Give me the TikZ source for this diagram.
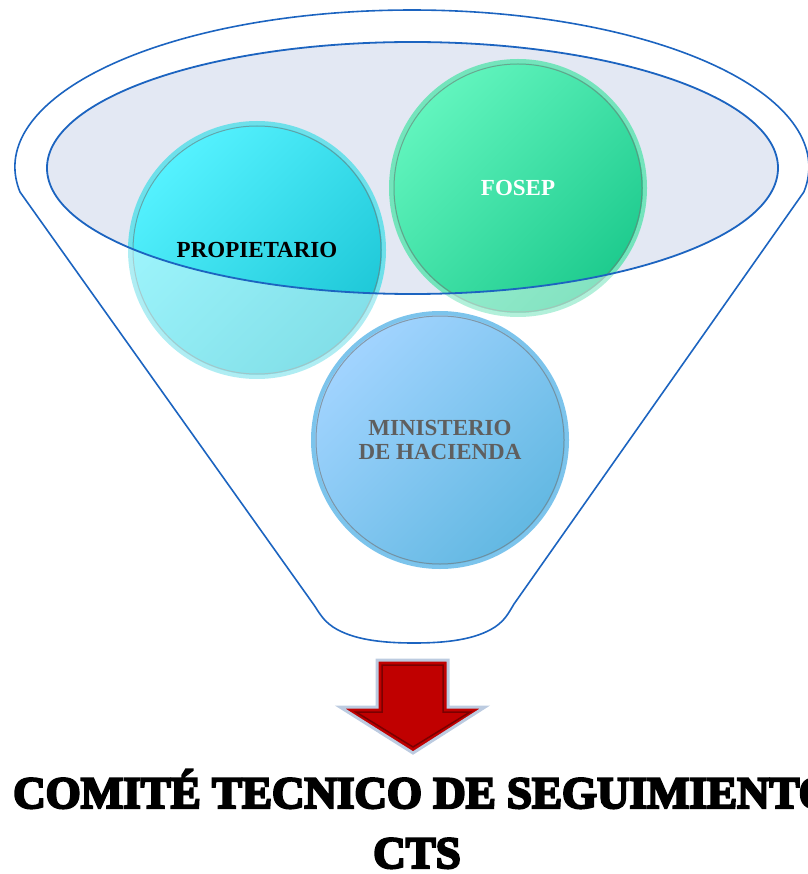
\documentclass[tikz,border=0pt]{standalone}
\usepackage{fontspec}
\setmainfont{Liberation Serif}
\newfontfamily\cooperfont{Liberation Serif}[BoldFeatures={FakeBold=5}]
\usetikzlibrary{positioning}

\definecolor{funnelblue}{HTML}{1C64C0}
\definecolor{rimfill}{HTML}{E3E8F3}
\definecolor{propA}{HTML}{55F2FF}
\definecolor{propB}{HTML}{1CC6D6}
\definecolor{propR}{HTML}{6EE0EA}
\definecolor{fosepA}{HTML}{62F5BE}
\definecolor{fosepB}{HTML}{1ECB8E}
\definecolor{fosepR}{HTML}{74E4BC}
\definecolor{minA}{HTML}{A2D4FF}
\definecolor{minB}{HTML}{62B8E2}
\definecolor{minR}{HTML}{7CC4EC}
\definecolor{arrowred}{HTML}{C00000}
\definecolor{arrowdark}{HTML}{7A0000}
\definecolor{arrowglow}{HTML}{BCCBE0}
\definecolor{mintext}{HTML}{5F5F5F}

\tikzset{
  funnelline/.style={draw=funnelblue, line width=1.6pt},
  bubble/.style={circle, minimum size=254pt, inner sep=0pt, line width=4pt,
    shading angle=45, align=center,
    font=\bfseries\fontsize{23}{24}\selectfont},
  rimline/.style={draw=black!55, line width=1pt, opacity=0.6},
  washout/.style={fill=white, opacity=0.45, even odd rule},
  titletext/.style={inner sep=0pt, font=\cooperfont\bfseries\fontsize{45}{54}\selectfont}
}

\begin{document}
\begin{tikzpicture}[x=1pt, y=-1pt]
                \useasboundingbox (0,0) rectangle (807,874);
                \draw[funnelline] (20,192) arc[start angle=170.84, end angle=369.16, x radius=397, y radius=157]
                    -- (514,604) .. controls (508,614) and (505,620) .. (495,627)
                    .. controls (475,640) and (445,643) .. (414,643)
                    .. controls (383,643) and (353,640) .. (333,627)
                    .. controls (323,620) and (320,614) .. (314,605) -- cycle;
                \fill[rimfill] (412.5,168) ellipse [x radius=365.5, y radius=126];
                \node[bubble, draw=propR, top color=propA, bottom color=propB, shading angle=45] (prop) at (257,250) {PROPIETARIO};
                \node[bubble, draw=fosepR, top color=fosepA, bottom color=fosepB, shading angle=45, text=white] (fosep) at (518,188) {FOSEP};
                \node[bubble, draw=minR, top color=minA, bottom color=minB, shading angle=45, text=mintext] (min) at (440,440) {MINISTERIO\\DE HACIENDA};
                \foreach \b in {prop, fosep, min}
                    \draw[rimline] (\b.center) circle (124);
                \foreach \b in {prop, fosep} {
                    \begin{scope}
                        \clip (\b.center) circle (130);
                        \fill[washout] (0,0) rectangle (807,874) (412.5,168) ellipse [x radius=365.5, y radius=126];
                    \end{scope}
                }
                \draw[funnelline, line width=1.8pt] (412.5,168) ellipse [x radius=365.5, y radius=126];
                \draw[draw=arrowglow, line width=3pt, fill=arrowred, line join=miter]
                    (377,660) -- (448,660) -- (448,707) -- (485,707) -- (413,753) -- (340,707) -- (377,707) -- cycle;
                \draw[draw=arrowdark, line width=1.5pt]
                    (382,665) -- (443,665) -- (443,712) -- (470,712) -- (413,747) -- (356,712) -- (382,712) -- cycle;
                \node[titletext, anchor=base west] (title) at (13,808) {COMITÉ TECNICO DE SEGUIMIENTO};
                \node[titletext, anchor=base] (cts) at (417,868) {CTS};
            \end{tikzpicture}
\end{document}
